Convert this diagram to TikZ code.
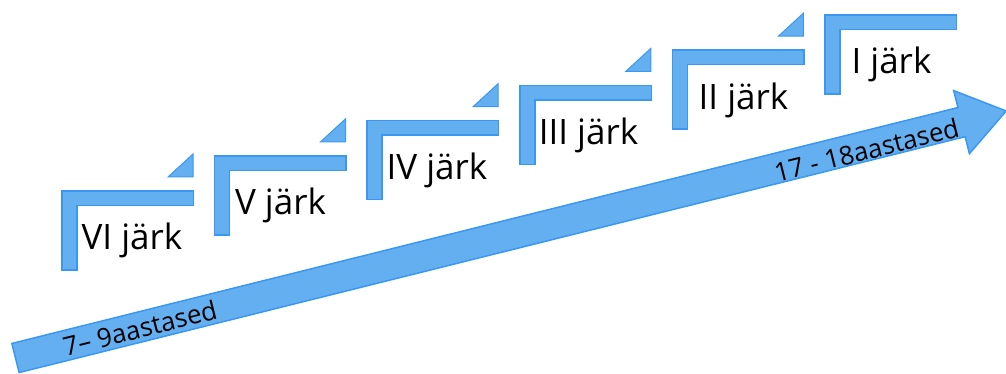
\documentclass[tikz,border=0pt]{standalone}
\usepackage{fontspec}
\setmainfont{Open Sans}
\definecolor{stepfill}{HTML}{64AFF0}
\definecolor{stepline}{HTML}{3A98F2}

\begin{document}
\begin{tikzpicture}[x=1pt,y=1pt,
    stepbar/.style={draw=stepline,fill=stepfill,line width=1.5pt,line join=miter},
    stepmark/.style={draw=stepline,fill=stepfill,line width=1pt},
    steplabel/.style={anchor=base,inner sep=0pt,font=\fontsize{35}{40}\selectfont},
    agelabel/.style={rotate=14,inner sep=0pt,font=\fontsize{26}{30}\selectfont}]
    \useasboundingbox (0,0) rectangle (1006,374) ;
    %% the long arrow
    \begin{scope}[shift={(15.5,16)},rotate=14]
         \draw[stepbar] (0,-15) -- (975,-15) -- (975,-32.5) -- (1021,0)
         -- (975,32.5) -- (975,15) -- (0,15) -- cycle ;
         \node[agelabel] (young) at (128,-1) {7– 9aastased} ;
         \node[agelabel] (old) at (876,-4) {17 - 18aastased} ;
    \end{scope}
    %% VI
         \draw[stepbar] (62,183) -- ++(131.5,0) -- ++(0,-14.5) -- ++(-116.5,0)
         -- ++(0,-64.5) -- ++(-15,0) -- cycle ;
         \draw[stepmark] (168,197) -- ++(25,0) -- ++(0,23) -- cycle ;
         \node[steplabel] (s6) at (132,124.5) {VI järk} ;
    %% V
         \draw[stepbar] (214.6,218.2) -- ++(131.5,0) -- ++(0,-14.5) -- ++(-116.5,0)
         -- ++(0,-64.5) -- ++(-15,0) -- cycle ;
         \draw[stepmark] (320.6,232.2) -- ++(25,0) -- ++(0,23) -- cycle ;
         \node[steplabel] (s5) at (280.5,159) {V järk} ;
    %% IV
         \draw[stepbar] (367.2,253.4) -- ++(131.5,0) -- ++(0,-14.5) -- ++(-116.5,0)
         -- ++(0,-64.5) -- ++(-15,0) -- cycle ;
         \draw[stepmark] (473.2,267.4) -- ++(25,0) -- ++(0,23) -- cycle ;
         \node[steplabel] (s4) at (437,194) {IV järk} ;
    %% III
         \draw[stepbar] (519.8,288.6) -- ++(131.5,0) -- ++(0,-14.5) -- ++(-116.5,0)
         -- ++(0,-64.5) -- ++(-15,0) -- cycle ;
         \draw[stepmark] (625.8,302.6) -- ++(25,0) -- ++(0,23) -- cycle ;
         \node[steplabel] (s3) at (588.5,229.5) {III järk} ;
    %% II
         \draw[stepbar] (672.4,323.8) -- ++(131.5,0) -- ++(0,-14.5) -- ++(-116.5,0)
         -- ++(0,-64.5) -- ++(-15,0) -- cycle ;
         \draw[stepmark] (778.4,337.8) -- ++(25,0) -- ++(0,23) -- cycle ;
         \node[steplabel] (s2) at (743.5,264.5) {II järk} ;
    %% I
         \draw[stepbar] (825,359) -- ++(131.5,0) -- ++(0,-14.5) -- ++(-116.5,0)
         -- ++(0,-64.5) -- ++(-15,0) -- cycle ;
         \node[steplabel] (s1) at (891.5,300) {I järk} ;
\end{tikzpicture}
\end{document}
